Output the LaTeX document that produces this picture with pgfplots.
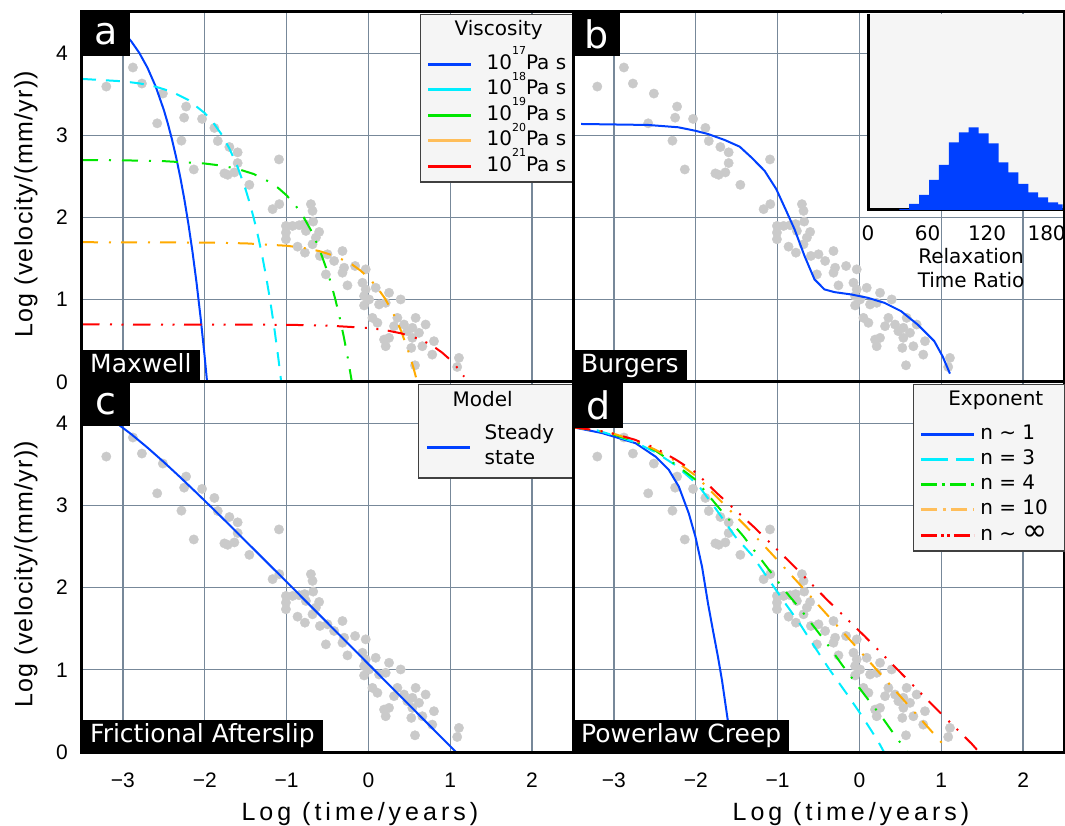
\documentclass[border=0pt]{standalone}
\usepackage{fontspec}
\setmainfont{DejaVu Sans}
\newfontfamily\arialfont{Liberation Sans}
\newfontfamily\xlabfont[LetterSpace=16]{Liberation Sans}
\newfontfamily\ylabfont[LetterSpace=5]{Liberation Sans}
\usepackage{pgfplots}
\usepackage{pgfplotstable}
\pgfplotsset{compat=1.18}

\definecolor{cblue}{RGB}{0,64,255}
\definecolor{ccyan}{RGB}{0,238,255}
\definecolor{cgreen}{RGB}{0,230,0}
\definecolor{corange}{RGB}{255,170,0}
\definecolor{corangeL}{RGB}{255,190,90}
\definecolor{cred}{RGB}{255,0,0}
\definecolor{cgray}{RGB}{202,202,202}
\definecolor{cgrid}{RGB}{119,136,153}
\definecolor{clegbg}{RGB}{245,245,245}

\pgfplotstableread{
x y
-3.203 3.593
-2.878 3.825
-2.768 3.630
-2.512 3.508
-2.228 3.350
-2.252 3.215
-2.581 3.146
-2.033 3.200
-1.882 3.090
-2.285 2.935
-1.841 2.931
-1.699 2.858
-1.598 2.793
-2.134 2.585
-1.598 2.663
-1.760 2.537
-1.720 2.520
-1.638 2.549
-1.455 2.398
-1.093 2.707
-1.171 2.102
-1.089 2.163
-0.703 2.163
-0.683 2.081
-0.675 1.951
-1.008 1.898
-0.927 1.898
-0.846 1.907
-0.780 1.920
-1.008 1.817
-1.008 1.736
-0.764 1.837
-0.602 1.825
-0.642 1.756
-0.866 1.646
-0.776 1.573
-0.683 1.675
-0.593 1.533
-0.500 1.553
-0.317 1.593
-0.419 1.472
-0.297 1.390
-0.317 1.329
-0.163 1.411
-0.033 1.370
-0.520 1.309
-0.256 1.175
-0.073 1.207
-0.033 1.126
0.089 1.146
-0.053 1.045
0.008 1.004
0.252 1.085
-0.053 0.931
0.130 0.943
0.211 0.963
0.394 1.004
0.049 0.780
0.110 0.720
0.354 0.780
0.313 0.679
0.435 0.699
0.537 0.659
0.577 0.780
0.699 0.699
0.476 0.618
0.618 0.598
0.191 0.516
0.252 0.537
0.211 0.435
0.537 0.537
0.801 0.496
0.659 0.435
0.524 0.415
0.780 0.333
1.106 0.293
1.085 0.183
0.569 0.203
}\obsdata

\newcommand{\vsup}[1]{\raisebox{14.5pt}{\fontsize{11}{11}\selectfont #1}}

\tikzset{
  lcyan/.style={ccyan, line width=2pt, dash pattern=on 14pt off 10pt},
  lgreen/.style={cgreen, line width=2pt, dash pattern=on 16pt off 11pt on 2pt off 11pt},
  lorange/.style={corange, line width=2pt, dash pattern=on 16pt off 11pt on 2pt off 10pt},
  lred/.style={cred, line width=2pt, dash pattern=on 17.5pt off 10.5pt on 2pt off 9.5pt on 2pt off 9.5pt},
  lblue/.style={cblue, line width=2pt},
  plab/.style={fill=black, text=white, inner sep=0pt, font=\fontsize{38}{38}\selectfont, minimum width=48pt, minimum height=44pt},
  nlab/.style={fill=black, text=white, inner xsep=8pt, inner ysep=0pt, font=\fontsize{25}{25}\selectfont, text height=23pt, text depth=9pt},
  frame/.style={line width=3pt, black},
}

\pgfplotsset{
  panel/.style={
    width=491pt, height=370pt, scale only axis,
    xmin=-3.5, xmax=2.5, ymin=0, ymax=4.5,
    xtick={-3,-2,-1,0,1,2}, ytick={0,1,2,3,4},
    xticklabels={}, yticklabels={},
    grid=major, major grid style={draw=cgrid, line width=1.2pt},
    axis line style={draw=none},
    tick style={draw=none},
    clip mode=individual,
    tick label style={font=\arialfont\fontsize{21}{21}\selectfont},
    yticklabel style={anchor=east, inner sep=0pt, xshift=-14pt},
    xticklabel style={anchor=north, inner sep=0pt, yshift=-21pt},
  },
  leftlab/.style={
    yticklabels={0,1,2,3,4},
    ylabel={Log (velocity/(mm/yr))},
    ylabel style={font=\ylabfont\fontsize{25}{25}\selectfont, at={(axis description cs:-0.114,0.48)}, anchor=center},
  },
  botlab/.style={
    xticklabels={−3,−2,−1,0,1,2},
    xlabel={Log (time/years)},
    xlabel style={font=\xlabfont\fontsize{25}{25}\selectfont, at={(axis description cs:0.566,0)}, anchor=base, yshift=-68pt},
  },
  legbase/.style={
    legend cell align=left,
    legend style={fill=clegbg, draw=black!75, line width=1.5pt,
      font=\fontsize{20}{25}\selectfont,
      nodes={inner sep=0pt, text height=15pt, text depth=5pt},
      at={(1,1)}, anchor=north east, yshift=-2pt},
  },
}

\begin{document}
\begin{tikzpicture}
\useasboundingbox (0,0) rectangle (1065pt,825pt);

% ---------------- panel a ----------------
\begin{axis}[panel, leftlab, legbase, at={(82pt,443pt)}, anchor=south west,
  legend style={inner xsep=6pt, inner ysep=6pt, column sep=14pt, row sep=5.5pt},
  legend image code/.code={\draw[#1] (0pt,0pt) -- (43pt,0pt);}]
\addplot[only marks, mark=*, mark size=4.7pt, color=cgray, mark options={fill=cgray, draw=cgray}, forget plot] table[x=x,y=y] {\obsdata};
\addplot[lblue, forget plot] coordinates {(-3.5,4.561) (-3.4,4.525) (-3.3,4.480) (-3.2,4.422) (-3.1,4.351) (-3.0,4.260) (-2.9,4.146) (-2.8,4.003) (-2.7,3.822) (-2.6,3.595) (-2.5,3.309) (-2.45,3.139) (-2.4,2.948) (-2.35,2.735) (-2.3,2.495) (-2.25,2.226) (-2.2,1.924) (-2.15,1.585) (-2.1,1.205) (-2.05,0.778) (-2.0,0.300) (-1.97,-0.015) (-1.95,-0.237)};
\addplot[lcyan, forget plot] coordinates {(-3.5,3.686) (-3.0,3.657) (-2.8,3.632) (-2.6,3.592) (-2.4,3.529) (-2.2,3.429) (-2.0,3.270) (-1.9,3.159) (-1.8,3.019) (-1.7,2.842) (-1.6,2.620) (-1.5,2.340) (-1.45,2.174) (-1.4,1.988) (-1.35,1.779) (-1.3,1.545) (-1.25,1.282) (-1.2,0.987) (-1.15,0.656) (-1.1,0.284) (-1.06,-0.045) (-1.04,-0.222)};
\addplot[lgreen, forget plot] coordinates {(-3.5,2.699) (-3.0,2.696) (-2.5,2.686) (-2.0,2.657) (-1.8,2.632) (-1.6,2.592) (-1.4,2.529) (-1.2,2.429) (-1.1,2.358) (-1.0,2.270) (-0.9,2.159) (-0.8,2.019) (-0.7,1.842) (-0.6,1.620) (-0.5,1.340) (-0.45,1.174) (-0.4,0.988) (-0.35,0.779) (-0.3,0.545) (-0.25,0.282) (-0.2,-0.013) (-0.18,-0.141)};
\addplot[lorange, forget plot] coordinates {(-3.5,1.700) (-2.0,1.696) (-1.5,1.686) (-1.0,1.657) (-0.8,1.632) (-0.6,1.592) (-0.4,1.529) (-0.2,1.429) (-0.1,1.358) (0.0,1.270) (0.1,1.159) (0.2,1.019) (0.3,0.842) (0.4,0.620) (0.5,0.340) (0.55,0.174) (0.6,-0.012) (0.62,-0.093)};
\addplot[lred, forget plot] coordinates {(-3.5,0.700) (-1.0,0.696) (-0.5,0.686) (0.0,0.657) (0.2,0.632) (0.4,0.592) (0.6,0.529) (0.7,0.485) (0.8,0.429) (0.9,0.358) (1.0,0.270) (1.1,0.159) (1.17,0.064)};
\addlegendimage{empty legend}\addlegendentry[text depth=13pt]{\hspace*{-32pt}Viscosity}
\addlegendimage{cblue, line width=3pt}\addlegendentry{10\vsup{17}Pa s}
\addlegendimage{ccyan, line width=3pt}\addlegendentry{10\vsup{18}Pa s}
\addlegendimage{cgreen, line width=3pt}\addlegendentry{10\vsup{19}Pa s}
\addlegendimage{corangeL, line width=3pt}\addlegendentry{10\vsup{20}Pa s}
\addlegendimage{cred, line width=3pt}\addlegendentry{10\vsup{21}Pa s}
\node[plab, anchor=north west] at (rel axis cs:0,1) {a};
\node[nlab, anchor=south west] at (rel axis cs:0,0) {Maxwell};
\draw[frame] (rel axis cs:0,0) rectangle (rel axis cs:1,1);
\end{axis}

% ---------------- panel b ----------------
\begin{axis}[panel, at={(573pt,443pt)}, anchor=south west]
\addplot[only marks, mark=*, mark size=4.7pt, color=cgray, mark options={fill=cgray, draw=cgray}, forget plot] table[x=x,y=y] {\obsdata};
\addplot[lblue, forget plot] coordinates {(-3.402,3.138) (-2.581,3.126) (-2.215,3.098) (-2.012,3.057) (-1.85,3.016) (-1.646,2.943) (-1.463,2.862) (-1.321,2.732) (-1.159,2.569) (-1.016,2.346) (-0.894,2.081) (-0.793,1.858) (-0.671,1.533) (-0.549,1.248) (-0.427,1.126) (-0.305,1.093) (-0.102,1.065) (0.102,1.024) (0.305,0.963) (0.508,0.862) (0.711,0.699) (0.915,0.496) (1.016,0.313) (1.106,0.102)};
\node[plab, anchor=north west, minimum width=47pt] at (rel axis cs:0,1) {b};
\node[nlab, anchor=south west] at (rel axis cs:0,0) {Burgers};
\draw[frame] (rel axis cs:0,0) rectangle (rel axis cs:1,1);
\end{axis}

% inset histogram
\begin{axis}[at={(868pt,615pt)}, anchor=south west, width=194.5pt, height=196pt, scale only axis,
  xmin=0, xmax=196, ymin=0, ymax=588,
  axis background/.style={fill=clegbg},
  axis line style={draw=none}, tick style={draw=none},
  xtick={0,60,120,180}, xticklabels={0,60,120,180}, ytick=\empty,
  clip mode=individual,
  xticklabel style={font=\fontsize{20}{20}\selectfont, inner sep=0pt, anchor=north, yshift=-15pt},
  xlabel={Relaxation\\Time Ratio},
  xlabel style={font=\fontsize{20}{24}\selectfont, align=center, inner sep=0pt, at={(axis description cs:0.53,0)}, anchor=north, yshift=-38pt}]
\draw[frame] (rel axis cs:0,1) -- (rel axis cs:0,0) -- (rel axis cs:1,0);
\addplot[const plot, fill=cblue, draw=none] coordinates {(31.5,3) (41.5,18) (51.5,45) (61.5,90) (71.5,135) (81.5,203) (91.5,233) (101.5,248) (111.5,230) (121.5,200) (131.5,143) (141.5,113) (151.5,78) (161.5,53) (171.5,38) (181.5,23) (191.5,17) (201.5,17)} \closedcycle;
\end{axis}

% ---------------- panel c ----------------
\begin{axis}[panel, leftlab, botlab, legbase, at={(82pt,73pt)}, anchor=south west,
  legend style={inner xsep=7pt, inner ysep=7pt, column sep=13pt, row sep=5pt},
  legend image code/.code={\draw[#1] (0pt,0pt) -- (43pt,0pt);}]
\addplot[only marks, mark=*, mark size=4.7pt, color=cgray, mark options={fill=cgray, draw=cgray}, forget plot] table[x=x,y=y] {\obsdata};
\addplot[lblue, forget plot] coordinates {(-3.5,4.254) (-3.3,4.146) (-3.1,4.016) (-2.9,3.867) (-2.7,3.702) (-2.5,3.526) (-2.3,3.342) (-2.1,3.152) (-1.9,2.959) (-1.7,2.763) (-1.5,2.565) (-1.0,2.069) (-0.5,1.570) (0,1.070) (0.5,0.570) (1.0,0.070) (1.1,-0.030)};
\addlegendimage{empty legend}\addlegendentry[text depth=13pt]{\hspace*{-32pt}Model}
\addlegendimage{cblue, line width=3pt}\addlegendentry[text depth=31pt]{\begin{tabular}[t]{@{}l@{\hspace{11pt}}}Steady\\state\end{tabular}}
\node[plab, anchor=north west] at (rel axis cs:0,1) {c};
\node[nlab, anchor=south west] at (rel axis cs:0,0) {Frictional Afterslip};
\draw[frame] (rel axis cs:0,0) rectangle (rel axis cs:1,1);
\end{axis}

% ---------------- panel d ----------------
\begin{axis}[panel, botlab, legbase, at={(573pt,73pt)}, anchor=south west,
  legend style={inner xsep=6pt, inner ysep=6pt, column sep=5pt, row sep=5.25pt, xshift=1pt},
  legend image code/.code={\draw[#1] (0pt,0pt) -- (53pt,0pt);}]
\addplot[only marks, mark=*, mark size=4.7pt, color=cgray, mark options={fill=cgray, draw=cgray}, forget plot] table[x=x,y=y] {\obsdata};
\addplot[lblue, forget plot] coordinates {(-3.5,3.95) (-3.142,3.878) (-2.736,3.756) (-2.492,3.593) (-2.329,3.431) (-2.207,3.228) (-2.085,2.902) (-2.004,2.618) (-1.923,2.252) (-1.85,1.805) (-1.79,1.48) (-1.728,1.154) (-1.679,0.87) (-1.614,0.423) (-1.57,0.15) (-1.53,-0.1)};
\addplot[lcyan, forget plot] coordinates {(-3.5,3.95) (-3.2,3.91) (-3.0,3.85) (-2.75,3.77) (-2.5,3.65) (-2.25,3.49) (-1.972,3.248) (-1.75,2.95) (-1.516,2.618) (-1.313,2.394) (-0.927,1.837) (-0.724,1.553) (-0.541,1.268) (-0.358,0.992) (-0.154,0.707) (0.028,0.443) (0.224,0.138) (0.30,0.0) (0.33,-0.05)};
\addplot[lgreen, forget plot] coordinates {(-3.5,3.95) (-3.2,3.91) (-3.0,3.86) (-2.75,3.78) (-2.5,3.67) (-2.25,3.50) (-2.0,3.31) (-1.74,2.996) (-1.423,2.63) (-1.211,2.354) (-0.915,1.967) (-0.711,1.724) (-0.411,1.337) (-0.207,1.053) (0.081,0.671) (0.285,0.411) (0.427,0.211) (0.60,-0.02)};
\addplot[lorange, forget plot] coordinates {(-3.5,3.95) (-3.2,3.91) (-3.0,3.87) (-2.75,3.79) (-2.5,3.68) (-2.25,3.54) (-2.0,3.36) (-1.728,3.085) (-1.382,2.740) (-1.057,2.394) (-0.728,2.037) (-0.407,1.683) (-0.081,1.325) (0.236,0.972) (0.553,0.618) (0.874,0.260) (1.037,0.077) (1.06,0.05)};
\addplot[lred, forget plot] coordinates {(-3.5,3.95) (-3.2,3.91) (-3.0,3.87) (-2.75,3.80) (-2.5,3.70) (-2.25,3.56) (-2.0,3.40) (-1.748,3.154) (-1.28,2.728) (-0.829,2.289) (-0.39,1.846) (0.057,1.415) (0.492,0.976) (0.927,0.537) (1.37,0.102) (1.47,-0.01)};
\addlegendimage{empty legend}\addlegendentry[text depth=13pt]{\hspace*{-32pt}Exponent\hspace*{15pt}}
\addlegendimage{cblue, line width=3pt}\addlegendentry{n ∼ 1}
\addlegendimage{ccyan, line width=3pt, dash pattern=on 27pt off 8pt}\addlegendentry{n = 3}
\addlegendimage{cgreen, line width=3pt, dash pattern=on 16pt off 5pt on 3pt off 5pt}\addlegendentry{n = 4}
\addlegendimage{corangeL, line width=3pt, dash pattern=on 16pt off 6pt on 3pt off 5pt}\addlegendentry{n = 10}
\addlegendimage{cred, line width=3pt, dash pattern=on 16pt off 4pt on 3pt off 3pt on 3pt off 4pt}\addlegendentry{n ∼ {\fontsize{30}{20}\selectfont ∞}}
\node[plab, anchor=north west, minimum width=50pt, minimum height=46pt] at (rel axis cs:0,1) {d};
\node[nlab, anchor=south west] at (rel axis cs:0,0) {Powerlaw Creep};
\draw[frame] (rel axis cs:0,0) rectangle (rel axis cs:1,1);
\end{axis}
\end{tikzpicture}
\end{document}
